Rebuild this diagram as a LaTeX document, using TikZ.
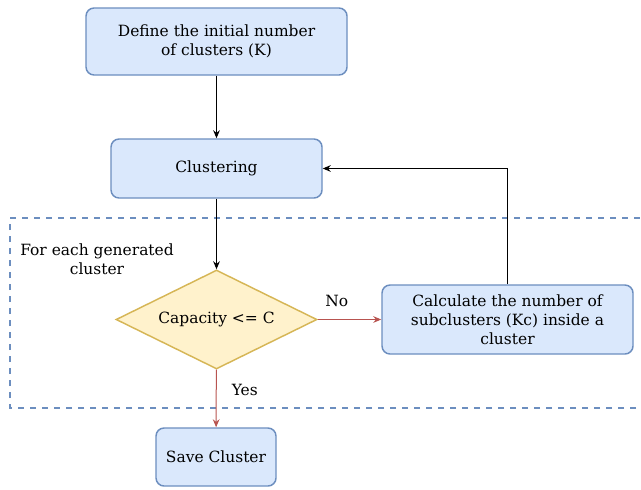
\documentclass[tikz,border=0pt]{standalone}
\usepackage{fontspec}
\setmainfont{DejaVu Serif}
\usetikzlibrary{arrows.meta,shapes.geometric}

\definecolor{boxfill}{RGB}{218,232,252}
\definecolor{boxdraw}{RGB}{108,142,191}
\definecolor{decfill}{RGB}{255,242,204}
\definecolor{decdraw}{RGB}{214,182,86}
\definecolor{nolink}{RGB}{184,84,80}

\tikzset{every picture/.style={line width=0.75pt}}
\tikzset{
  boxfont/.style={font=\fontsize{11.6}{14.4}\selectfont},
  procbox/.style={draw=boxdraw, fill=boxfill, line width=1.1pt, rounded corners=6pt,
    align=center, inner sep=0.75pt, boxfont},
  decbox/.style={diamond, draw=decdraw, fill=decfill, line width=1.1pt, aspect=2,
    inner sep=0.75pt, boxfont},
  flow/.style={-{Stealth[length=6pt,width=5pt]}, line width=0.75pt},
  redflow/.style={flow, draw=nolink},
}

\begin{document}
\begin{tikzpicture}[x=0.75pt,y=0.75pt,yscale=-1,xscale=1]
\useasboundingbox (0,0) rectangle (641,489);
\clip (0,0) rectangle (641,489);

%Shape: Dashed group frame
\draw [color=boxdraw, line width=1.4pt, dash pattern={on 4.5pt off 4.5pt}] (10,218) -- (660,218) -- (660,408) -- (10,408) -- cycle ;

% Text Node
\node (defk) [procbox, minimum width=195.75pt, minimum height=50.25pt] at (216.5,41.5) {Define the initial number\\of clusters (K)};
% Text Node
\node (clust) [procbox, minimum width=158.25pt, minimum height=44.25pt] at (216.5,168.5) {Clustering};
% Text Node
\node (capc) [decbox, minimum width=150.75pt, minimum height=74.25pt] at (216.5,319.5) {Capacity <= C};
% Text Node
\node (subk) [procbox, minimum width=188.25pt, minimum height=51.75pt] at (507.5,319.5) {Calculate the number of\\subclusters (Kc) inside a\\cluster};
% Text Node
\node (save) [procbox, minimum width=90pt, minimum height=43.5pt] at (216,457) {Save Cluster};
% Text Node
\node (grp) [align=center, inner sep=0.75pt, boxfont] at (97,259) {For each generated\\cluster};

%Straight Lines
\draw [flow] (defk) -- (clust) ;
\draw [flow] (clust) -- (capc) ;
\draw [redflow] (capc) -- (subk) node [pos=0.3, above=6pt, text=black, boxfont] {No} ;
\draw [redflow] (capc) -- (save) node [pos=0.35, right=8pt, text=black, boxfont] {Yes} ;
\draw [flow] (subk.north) -- (subk.north |- clust.east) -- (clust.east) ;

\end{tikzpicture}
\end{document}
